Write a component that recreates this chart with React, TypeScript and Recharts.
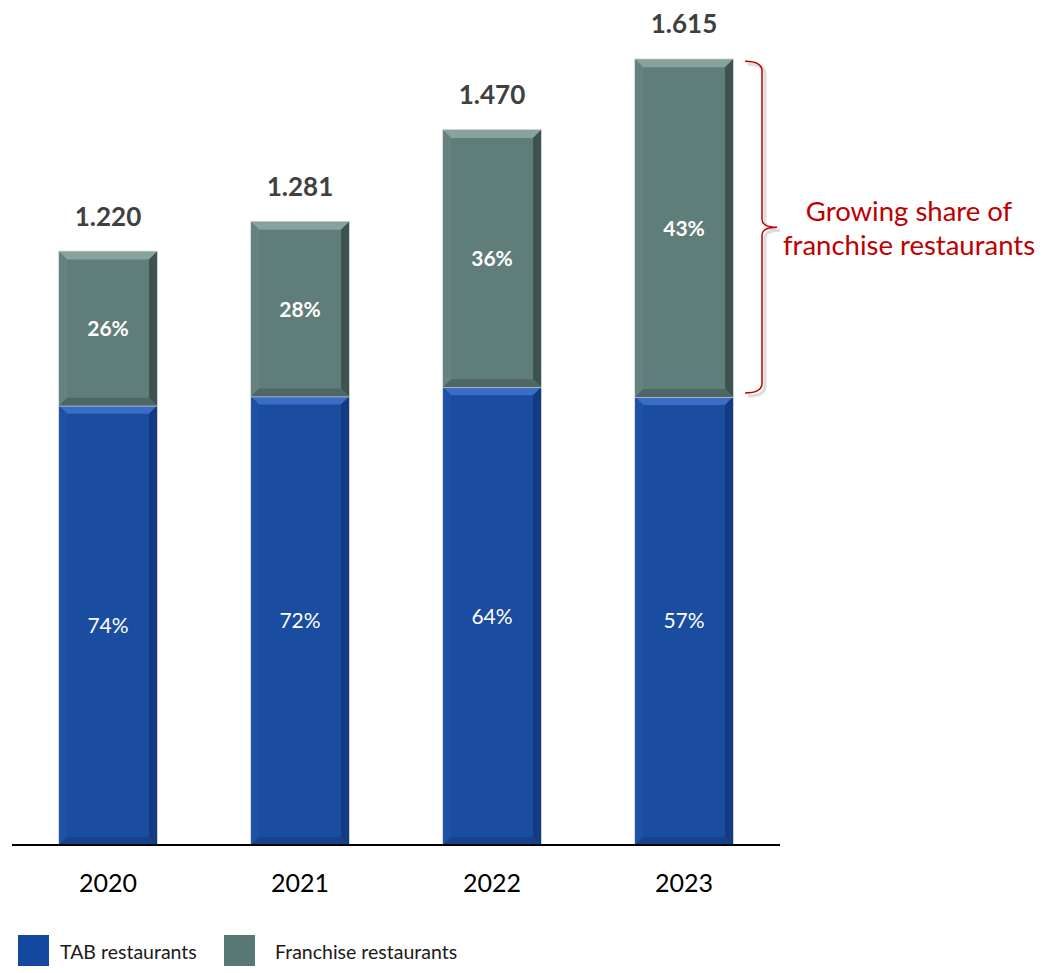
import { BarChart, Bar, XAxis, YAxis, LabelList } from 'recharts'

const years = ['2020', '2021', '2022', '2023']
const totals = [1220, 1281, 1470, 1615]
const tabRestaurants = [903, 922, 941, 921]
const franchiseRestaurants = [317, 359, 529, 694]
const tabShare = ['74%', '72%', '64%', '57%']
const franchiseShare = ['26%', '28%', '36%', '43%']

const FONT = 'Lato, "Open Sans", sans-serif'

const data = years.map((year, i) => ({
  year,
  tab: tabRestaurants[i],
  franchise: franchiseRestaurants[i],
  tabLabel: tabShare[i],
  franchiseLabel: franchiseShare[i],
  totalLabel: totals[i].toLocaleString('de-DE'),
}))

function BevelBar(props: any) {
  const { x, y, width: w, height: h, face, light, dark, bottom, left } = props
  if (!w || !h) return null
  const b = 8
  return (
    <g>
      <rect x={x} y={y} width={w} height={h} fill={face} stroke="#cfcfcf" strokeWidth={1.5} />
      <polygon points={`${x},${y} ${x + w},${y} ${x + w - b},${y + b} ${x + b},${y + b}`} fill={light} />
      <polygon points={`${x},${y} ${x + b},${y + b} ${x + b},${y + h - b} ${x},${y + h}`} fill={left} />
      <polygon points={`${x + w},${y} ${x + w},${y + h} ${x + w - b},${y + h - b} ${x + w - b},${y + b}`} fill={dark} />
      <polygon points={`${x},${y + h} ${x + w},${y + h} ${x + w - b},${y + h - b} ${x + b},${y + h - b}`} fill={bottom} />
    </g>
  )
}

// bracket + note next to the last franchise segment
function GrowthNote(props: any) {
  const { x, y, width, height, index } = props
  if (index !== years.length - 1) return null
  const x0 = x + width + 12
  const x1 = x0 + 17
  const tip = x1 + 15
  const y0 = y + 2
  const y1 = y + height - 4
  const mid = (y0 + y1) / 2
  const d = `M ${x0} ${y0} Q ${x1} ${y0} ${x1} ${y0 + 10} L ${x1} ${mid - 8} Q ${x1} ${mid} ${tip} ${mid} Q ${x1} ${mid} ${x1} ${mid + 8} L ${x1} ${y1 - 10} Q ${x1} ${y1} ${x0} ${y1}`
  const cx = x + width + 176
  return (
    <g>
      <path d={d} fill="none" stroke="#bbbbbb" strokeWidth={3} opacity={0.5} transform="translate(3,3)" />
      <path d={d} fill="none" stroke="#C00000" strokeWidth={1.5} />
      <text x={cx} y={mid - 17} textAnchor="middle" dominantBaseline="central" fill="#C00000" fontSize={27.5} fontFamily={FONT}>
        Growing share of
      </text>
      <text x={cx} y={mid + 17} textAnchor="middle" dominantBaseline="central" fill="#C00000" fontSize={27.5} fontFamily={FONT}>
        franchise restaurants
      </text>
    </g>
  )
}

export default function App() {
  return (
    <div style={{ position: 'absolute', left: 0, top: 0, width: 1051, height: 973, background: '#fff' }}>
      <BarChart
        width={1051}
        height={973}
        data={data}
        margin={{ top: 18, right: 271, left: 12, bottom: 68 }}
        barCategoryGap="24.5%"
      >
        <XAxis
          dataKey="year"
          height={60}
          axisLine={{ stroke: '#000', strokeWidth: 2 }}
          tickLine={false}
          tickMargin={23}
          tick={{ fontSize: 25, fill: '#000', fontFamily: FONT }}
        />
        <YAxis hide domain={[0, 1700]} />
        <Bar
          dataKey="tab"
          stackId="a"
          isAnimationActive={false}
          fill="#1A4CA0"
          shape={(p: any) => (
            <BevelBar {...p} face="#1A4CA0" light="#3A6DC6" left="#1D51A8" dark="#123B80" bottom="#16428C" />
          )}
        >
          <LabelList dataKey="tabLabel" position="center" fill="#fff" fontSize={21} fontFamily={FONT} />
        </Bar>
        <Bar
          dataKey="franchise"
          stackId="a"
          isAnimationActive={false}
          fill="#5F7D79"
          shape={(p: any) => (
            <BevelBar {...p} face="#5F7D79" light="#88A29E" left="#66837F" dark="#3E524F" bottom="#4E6764" />
          )}
        >
          <LabelList dataKey="franchiseLabel" position="center" fill="#fff" fontSize={21} fontWeight="bold" fontFamily={FONT} />
          <LabelList dataKey="totalLabel" position="top" offset={26} fill="#404040" fontSize={26} fontWeight="bold" fontFamily={FONT} />
          <LabelList dataKey="franchise" content={GrowthNote} />
        </Bar>
      </BarChart>
      <div style={{ position: 'absolute', left: 18, top: 935, width: 31, height: 31, background: '#14489E' }} />
      <div style={{ position: 'absolute', left: 60, top: 939, fontSize: 19.5, fontFamily: FONT, color: '#1a1a1a', lineHeight: '26px' }}>
        TAB restaurants
      </div>
      <div style={{ position: 'absolute', left: 224, top: 935, width: 31, height: 31, background: '#587874' }} />
      <div style={{ position: 'absolute', left: 275, top: 939, fontSize: 19.5, fontFamily: FONT, color: '#1a1a1a', lineHeight: '26px' }}>
        Franchise restaurants
      </div>
    </div>
  )
}
